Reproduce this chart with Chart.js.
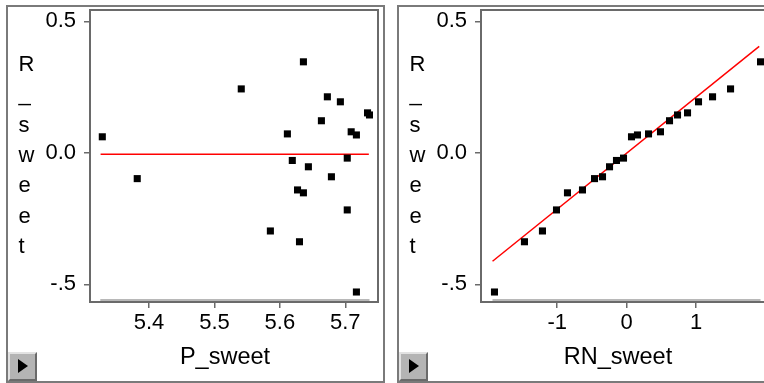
<!DOCTYPE html>
<html>
<head>
<meta charset="utf-8">
<script src="https://cdn.jsdelivr.net/npm/chart.js@4.4.1/dist/chart.umd.min.js"></script>
<style>
html, body { margin: 0; padding: 0; background: #fff; overflow: hidden; }
body { width: 764px; height: 383px; position: relative; }
.frame { position: absolute; box-sizing: border-box; border: 2px solid #7a7a7a; }
canvas { position: absolute; top: 0; }
.btn { position: absolute; top: 352px; width: 29px; height: 29px; box-sizing: border-box;
  background: #b4b4b4; border-top: 2px solid #e2e2e2; border-left: 2px solid #e2e2e2;
  border-bottom: 2px solid #6a6a6a; border-right: 2px solid #6a6a6a; }
.btn span { position: absolute; left: 8px; top: 5px; width: 0; height: 0;
  border-left: 10px solid #000; border-top: 7.5px solid transparent; border-bottom: 7.5px solid transparent; }
</style>
</head>
<body>
<div class="frame" style="left:6px;top:5px;width:379px;height:378px"></div>
<div class="frame" style="left:397px;top:5px;width:379px;height:378px"></div>
<canvas id="c1" width="390" height="383" style="left:0"></canvas>
<canvas id="c2" width="390" height="383" style="left:391px"></canvas>
<div class="btn" style="left:8px"><span></span></div>
<div class="btn" style="left:399px"><span></span></div>
<script>
// residuals vs predicted
const pSweet = [5.3286, 5.382, 5.541, 5.5855, 5.6115, 5.619, 5.627, 5.630, 5.636, 5.636, 5.6436,
  5.6635, 5.6726, 5.6788, 5.6925, 5.703, 5.703, 5.709, 5.717, 5.717, 5.734, 5.737];
const rSweet = [0.061, -0.098, 0.243, -0.297, 0.072, -0.029, -0.141, -0.338, 0.346, -0.152, -0.053,
  0.122, 0.213, -0.091, 0.194, -0.020, -0.217, 0.080, 0.068, -0.529, 0.152, 0.144];

// normal quantile plot
const rnSweet = [-1.902, -1.471, -1.212, -1.010, -0.852, -0.636, -0.463, -0.348, -0.247, -0.147, -0.046,
  0.069, 0.155, 0.314, 0.486, 0.616, 0.731, 0.875, 1.033, 1.235, 1.494, 1.925];
const rSweetSorted = [-0.529, -0.338, -0.297, -0.217, -0.152, -0.141, -0.098, -0.091, -0.053, -0.029, -0.020,
  0.061, 0.068, 0.072, 0.080, 0.122, 0.144, 0.152, 0.194, 0.213, 0.243, 0.346];

// fitted lines
const fitPx = [5.326, 5.736];
const fitPy = [-0.005, -0.005];
const fitRNx = [-1.93, 1.906];
const fitRNy = [-0.412, 0.405];

// ticks
const yTicks = [-0.5, 0, 0.5];
const yTickLabels = ['-.5', '0.0', '0.5'];
const xTicksP = [5.4, 5.5, 5.6, 5.7];
const xTickLabelsP = ['5.4', '5.5', '5.6', '5.7'];
const xTicksRN = [-1, 0, 1];
const xTickLabelsRN = ['-1', '0', '1'];

const FONT = '"Liberation Sans", Arial, sans-serif';

function noPad(s) {
  s.paddingTop = 0; s.paddingBottom = 0; s.paddingLeft = 0; s.paddingRight = 0;
}

function makeChart(id, xs, ys, fx, fy, xMin, xMax, xTicks, xLabels, xTitle, titleX) {
  const pts = xs.map((x, i) => ({x: x, y: ys[i]}));
  const line = fx.map((x, i) => ({x: x, y: fy[i]}));

  const decor = {
    id: 'decor',
    beforeDatasetsDraw(chart) {
      const ctx = chart.ctx, a = chart.chartArea, sx = chart.scales.x;
      ctx.save();
      // data range line along bottom
      ctx.strokeStyle = '#a0a0a0';
      ctx.lineWidth = 1.5;
      ctx.beginPath();
      ctx.moveTo(sx.getPixelForValue(Math.min(...xs)) - 2, a.bottom - 2);
      ctx.lineTo(sx.getPixelForValue(Math.max(...xs)), a.bottom - 2);
      ctx.stroke();
      // plot frame
      ctx.strokeStyle = '#6a6a6a';
      ctx.lineWidth = 2;
      ctx.strokeRect(a.left, a.top, a.right - a.left, a.bottom - a.top);
      ctx.restore();
    },
    afterDraw(chart) {
      const ctx = chart.ctx;
      ctx.save();
      ctx.fillStyle = '#000';
      ctx.textBaseline = 'alphabetic';
      ctx.font = '22px ' + FONT;
      ctx.textAlign = 'left';
      'R_sweet'.split('').forEach((ch, i) => ctx.fillText(ch, 18.5, 71 + i * 30.3));
      ctx.font = '23.5px ' + FONT;
      ctx.textAlign = 'center';
      ctx.fillText(xTitle, titleX, 364);
      ctx.restore();
    }
  };

  return new Chart(document.getElementById(id), {
    data: {
      datasets: [
        {type: 'scatter', data: pts, pointStyle: 'rect', pointRadius: 5, pointBorderWidth: 0,
          backgroundColor: '#000', borderColor: '#000', order: 1},
        {type: 'line', data: line, borderColor: '#ff0000', borderWidth: 1.5, pointRadius: 0,
          fill: false, order: 2}
      ]
    },
    options: {
      responsive: false,
      devicePixelRatio: 1,
      animation: false,
      layout: {padding: {top: 10, right: 12, left: 0, bottom: 0}},
      plugins: {legend: {display: false}, tooltip: {enabled: false}},
      scales: {
        x: {
          type: 'linear', min: xMin, max: xMax,
          afterFit: s => { s.height = 81; noPad(s); },
          afterBuildTicks: s => { s.ticks = xTicks.map(v => ({value: v})); },
          grid: {drawOnChartArea: false, drawTicks: true, tickLength: 6, color: '#6a6a6a', lineWidth: 1.5},
          border: {display: false},
          ticks: {padding: 2, color: '#000', font: {family: FONT, size: 22},
            callback: (v, i) => xLabels[i], maxRotation: 0}
        },
        y: {
          type: 'linear', min: -0.567, max: 0.543,
          afterFit: s => { s.width = 90; noPad(s); },
          afterBuildTicks: s => { s.ticks = yTicks.map(v => ({value: v})); },
          grid: {drawOnChartArea: false, drawTicks: true, tickLength: 6, color: '#6a6a6a', lineWidth: 1.5},
          border: {display: false},
          ticks: {padding: 8, color: '#000', font: {family: FONT, size: 22},
            callback: (v, i) => yTickLabels[i]}
        }
      }
    },
    plugins: [decor]
  });
}

makeChart('c1', pSweet, rSweet, fitPx, fitPy, 5.3098, 5.75, xTicksP, xTickLabelsP, 'P_sweet', 225);
makeChart('c2', rnSweet, rSweetSorted, fitRNx, fitRNy, -2.096, 2.047, xTicksRN, xTickLabelsRN, 'RN_sweet', 227);
</script>
</body>
</html>
